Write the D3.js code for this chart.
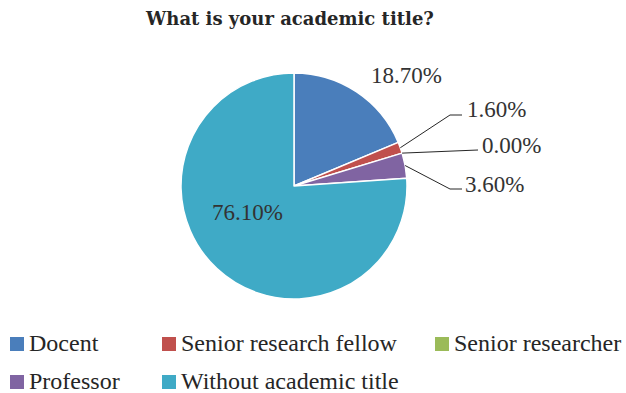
<!DOCTYPE html>
<html>
<head>
<meta charset="utf-8">
<script src="https://cdn.jsdelivr.net/npm/d3@7/dist/d3.min.js"></script>
<style>
  html, body { margin: 0; padding: 0; background: #ffffff; }
  svg { display: block; }
</style>
</head>
<body>
<svg id="chart" width="626" height="393"></svg>
<script>
// Survey answers: academic title shares (percent)
const categories = ["Docent", "Senior research fellow", "Senior researcher", "Professor", "Without academic title"];
const shares = [18.7, 1.6, 0.0, 3.6, 76.1];
const colors = ["#4a7ebb", "#c0504d", "#9bbb59", "#8064a2", "#3faac6"];
const title = "What is your academic title?";

const svg = d3.select("#chart");
const cx = 294, cy = 186, R = 113;

const data = categories.map((c, i) => ({ name: c, value: shares[i], color: colors[i] }));

// Title
svg.append("text")
  .attr("x", 290).attr("y", 25)
  .attr("text-anchor", "middle")
  .attr("font-family", "DejaVu Serif")
  .attr("font-weight", "bold")
  .attr("font-size", 18)
  .attr("fill", "#262626")
  .text(title);

const pie = d3.pie().sort(null).value(d => d.value);
const arcs = pie(data);
const arc = d3.arc().innerRadius(0).outerRadius(R);

const g = svg.append("g").attr("transform", `translate(${cx},${cy})`);

g.selectAll("path.slice")
  .data(arcs.filter(a => a.data.value > 0))
  .join("path")
  .attr("class", "slice")
  .attr("d", arc)
  .attr("fill", d => d.data.color)
  .attr("stroke", "#ffffff")
  .attr("stroke-width", 1.5)
  .attr("stroke-linejoin", "round");

const fmt = v => v.toFixed(2) + "%";

// Label layout per slice (relative to pie centre): text anchor point,
// and, for the thin slices, the elbow and end of a leader line.
const labelLayout = [
  { tx: 77,  ty: -103, leader: null },
  { tx: 173, ty: -69,  leader: { ex: 156, ey: -71, hx: 168 } },
  { tx: 188, ty: -33,  leader: { ex: 184, ey: -36, hx: 184 } },
  { tx: 171, ty: 6,    leader: { ex: 156, ey: 3,   hx: 168 } },
  { tx: -82, ty: 34,   leader: null }
];

const labels = g.append("g").attr("class", "labels");
arcs.forEach((a, i) => {
  const L = labelLayout[i];
  if (L.leader) {
    const mid = (a.startAngle + a.endAngle) / 2;
    const sx = Math.sin(mid) * R, sy = -Math.cos(mid) * R;
    labels.append("polyline")
      .attr("points", `${sx},${sy} ${L.leader.ex},${L.leader.ey} ${L.leader.hx},${L.leader.ey}`)
      .attr("fill", "none")
      .attr("stroke", "#262626")
      .attr("stroke-width", 1);
  }
  labels.append("text")
    .attr("x", L.tx).attr("y", L.ty)
    .attr("font-family", "Liberation Serif")
    .attr("font-size", 23)
    .attr("fill", "#333333")
    .text(fmt(a.data.value));
});

// Legend: two rows, three columns
const legendPos = [
  { x: 10,  y: 337 },
  { x: 162, y: 337 },
  { x: 435, y: 337 },
  { x: 10,  y: 375 },
  { x: 162, y: 375 }
];
const legend = svg.append("g").attr("class", "legend");
data.forEach((d, i) => {
  const p = legendPos[i];
  legend.append("rect")
    .attr("x", p.x).attr("y", p.y)
    .attr("width", 14).attr("height", 14)
    .attr("fill", d.color);
  legend.append("text")
    .attr("x", p.x + 19).attr("y", p.y + 14)
    .attr("font-family", "Liberation Serif")
    .attr("font-size", 24)
    .attr("fill", "#262626")
    .text(d.name);
});
</script>
</body>
</html>
